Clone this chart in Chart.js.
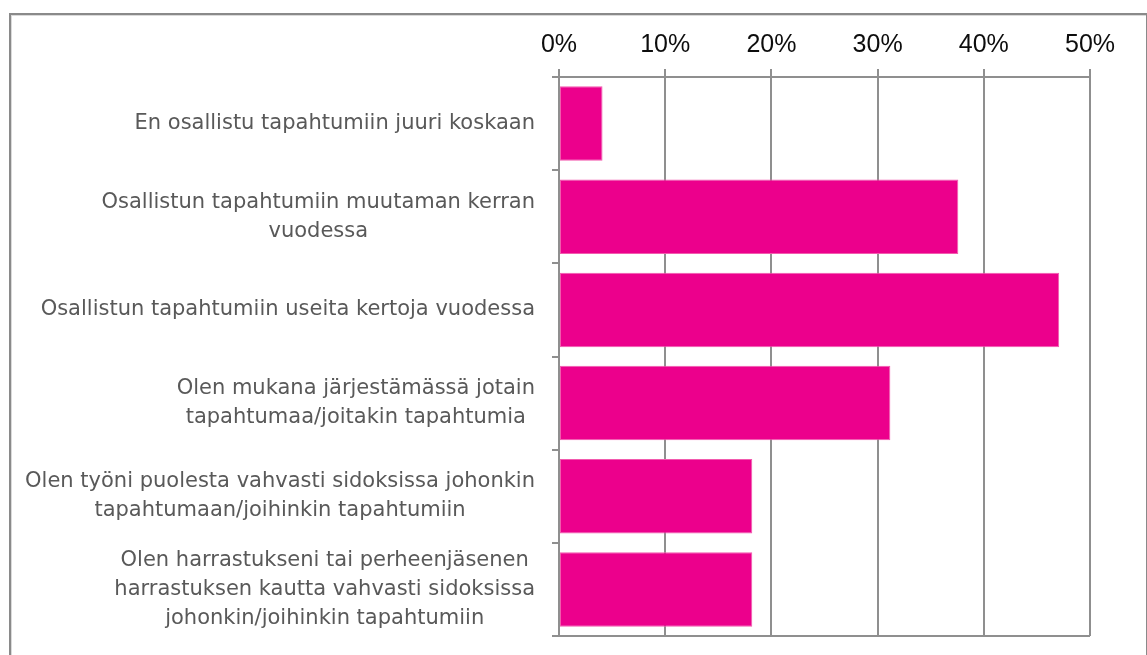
<!DOCTYPE html>
<html>
<head>
<meta charset="utf-8">
<script src="https://cdn.jsdelivr.net/npm/chart.js@4"></script>
<style>
  html, body { margin: 0; padding: 0; background: #fff; overflow: hidden; }
  #wrap { position: relative; width: 1147px; height: 655px; }
  #c { position: absolute; left: 0; top: 0; }
  #frame { position: absolute; left: 9px; top: 13px; width: 1135px; height: 700px;
           border: 2px solid #8a8a8a; box-shadow: inset 1px 1px 0 #dadada; pointer-events: none; }
</style>
</head>
<body>
<div id="wrap">
  <canvas id="c" width="1147" height="655"></canvas>
  <div id="frame"></div>
</div>
<script>
// ---- data ----
const categories = [
  ["En osallistu tapahtumiin juuri koskaan"],
  ["Osallistun tapahtumiin muutaman kerran", "vuodessa"],
  ["Osallistun tapahtumiin useita kertoja vuodessa"],
  ["Olen mukana järjestämässä jotain", "tapahtumaa/joitakin tapahtumia"],
  ["Olen työni puolesta vahvasti sidoksissa johonkin", "tapahtumaan/joihinkin tapahtumiin"],
  ["Olen harrastukseni tai perheenjäsenen", "harrastuksen kautta vahvasti sidoksissa", "johonkin/joihinkin tapahtumiin"]
];
const values = [4.1, 37.6, 47.1, 31.2, 18.2, 18.2];
const tickValues = [0, 10, 20, 30, 40, 50];
const tickLabels = ["0%", "10%", "20%", "30%", "40%", "50%"];

const GRID = '#8f8f8f';
const LABEL_FONT = '21px "DejaVu Sans"';
const LABEL_COLOR = '#595959';
const LINE_H = 29;

const categoryLabelPlugin = {
  id: 'categoryLabels',
  afterDraw(chart) {
    const ctx = chart.ctx;
    const y = chart.scales.y;
    const right = chart.chartArea.left - 24;
    ctx.save();
    ctx.font = LABEL_FONT;
    ctx.fillStyle = LABEL_COLOR;
    ctx.textAlign = 'center';
    ctx.textBaseline = 'middle';
    categories.forEach((lines, i) => {
      const cy = y.getPixelForTick(i);
      const w = Math.max(...lines.map(l => ctx.measureText(l).width));
      const cx = right - w / 2;
      const y0 = cy - (lines.length - 1) * LINE_H / 2;
      lines.forEach((l, k) => ctx.fillText(l, cx, y0 + k * LINE_H));
    });
    ctx.restore();
  }
};

new Chart(document.getElementById('c'), {
  type: 'bar',
  data: {
    labels: categories,
    datasets: [{
      data: values,
      backgroundColor: '#EC008C',
      borderColor: '#F25AAE',
      borderWidth: 1,
      borderSkipped: false,
      categoryPercentage: 0.8,
      barPercentage: 1.0
    }]
  },
  options: {
    indexAxis: 'y',
    responsive: false,
    animation: false,
    devicePixelRatio: 1,
    layout: { padding: { left: 0, right: 57, top: 21, bottom: 19 } },
    plugins: { legend: { display: false }, tooltip: { enabled: false } },
    scales: {
      x: {
        position: 'top',
        min: 0, max: 50,
        afterBuildTicks(scale) { scale.ticks = tickValues.map(v => ({ value: v })); },
        ticks: {
          padding: 9,
          color: '#0d0d0d',
          font: { family: '"Liberation Sans", Arial, sans-serif', size: 25 },
          callback: (v, i) => tickLabels[i],
          maxRotation: 0
        },
        grid: { color: GRID, lineWidth: 2, tickLength: 8, drawTicks: true },
        border: { display: true, color: GRID, width: 2 }
      },
      y: {
        afterFit(scale) { scale.width = 559; },
        ticks: { color: 'transparent', autoSkip: false, font: { size: 12 } },
        grid: {
          offset: true,
          drawOnChartArea: true,
          color: (c) => c.type === 'tick' ? 'transparent' : GRID,
          tickColor: GRID,
          lineWidth: 2,
          tickLength: 7
        },
        border: { display: true, color: GRID, width: 2 }
      }
    }
  },
  plugins: [categoryLabelPlugin]
});
</script>
</body>
</html>
